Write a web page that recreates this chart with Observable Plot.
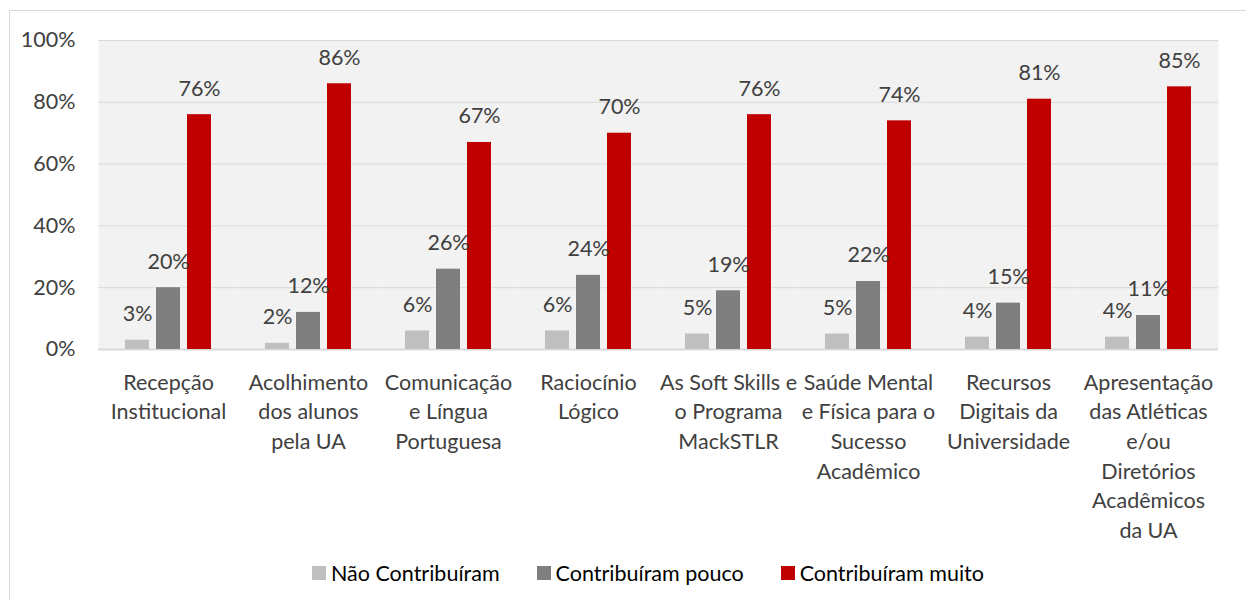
<!DOCTYPE html>
<html>
<head>
<meta charset="utf-8">
<script src="https://cdn.jsdelivr.net/npm/d3@7"></script>
<script src="https://cdn.jsdelivr.net/npm/@observablehq/plot@0.6"></script>
<style>
  html, body { margin: 0; padding: 0; background: #fff; width: 1246px; height: 600px; overflow: hidden; }
  #frame { position: absolute; left: 9px; top: 10px; width: 1250px; height: 600px; border-left: 1px solid #d9d9d9; border-top: 1px solid #d9d9d9; }
  #chart { position: absolute; left: 0; top: 0; }
  #legend { position: absolute; left: 312px; top: 560px; display: flex; align-items: center; font-family: Lato, sans-serif; font-size: 21.5px; color: #000; }
  .item { display: flex; align-items: center; margin-right: 37px; }
  .sw { width: 14px; height: 14px; margin-right: 5px; }
</style>
</head>
<body>
<div id="frame"></div>
<div id="chart"></div>
<div id="legend"></div>
<script>
const categories = ["Recepção Institucional", "Acolhimento dos alunos pela UA", "Comunicação e Língua Portuguesa", "Raciocínio Lógico", "As Soft Skills e o Programa MackSTLR", "Saúde Mental e Física para o Sucesso Acadêmico", "Recursos Digitais da Universidade", "Apresentação das Atléticas e/ou Diretórios Acadêmicos da UA"];
const tickLabels = ["Recepção\nInstitucional", "Acolhimento\ndos alunos\npela UA", "Comunicação\ne Língua\nPortuguesa", "Raciocínio\nLógico", "As Soft Skills e\no Programa\nMackSTLR", "Saúde Mental\ne Física para o\nSucesso\nAcadêmico", "Recursos\nDigitais da\nUniversidade", "Apresentação\ndas Atléticas\ne/ou\nDiretórios\nAcadêmicos\nda UA"];
const series = ["Não Contribuíram", "Contribuíram pouco", "Contribuíram muito"];
const colors = ["#bfbfbf", "#7f7f7f", "#c00000"];
const naoContribuiram = [3, 2, 6, 6, 5, 5, 4, 4];
const contribuiramPouco = [20, 12, 26, 24, 19, 22, 15, 11];
const contribuiramMuito = [76, 86, 67, 70, 76, 74, 81, 85];
const yTicks = [0, 20, 40, 60, 80, 100];

const seriesValues = [naoContribuiram, contribuiramPouco, contribuiramMuito];
const data = [];
categories.forEach((c, i) => {
  series.forEach((s, j) => data.push({cat: c, series: s, value: seriesValues[j][i]}));
});

const chart = Plot.plot({
  width: 1246,
  height: 550,
  marginLeft: 98,
  marginRight: 28,
  marginTop: 40,
  marginBottom: 201,
  style: {fontFamily: "Lato, sans-serif", fontSize: "21.5px", color: "#404040", background: "transparent"},
  fx: {domain: categories, padding: 0, label: null},
  x: {domain: series, paddingInner: 0.226, paddingOuter: 0.871, axis: null},
  y: {domain: [0, 100], label: null},
  color: {domain: series, range: colors},
  marks: [
    Plot.frame({fill: "#f2f2f2", stroke: null}),
    Plot.ruleY(yTicks.slice(1), {stroke: "#d9d9d9", strokeWidth: 1}),
    Plot.ruleY([0], {stroke: "#d9d9d9", strokeWidth: 2}),
    Plot.barY(data, {fx: "cat", x: "series", y: "value", fill: "series"}),
    Plot.text(data, {fx: "cat", x: "series", y: "value", text: d => d.value + "%", dy: -26, fill: "#404040", fontSize: 21.5}),
    Plot.axisY({ticks: yTicks, tickFormat: d => d + "%", tickSize: 0, tickPadding: 23, fontSize: 21.5, label: null}),
    Plot.axisFx({anchor: "bottom", tickSize: 0, tickPadding: 19, lineHeight: 1.38, lineAnchor: "top", fontSize: 21.5, label: null, tickFormat: d => tickLabels[categories.indexOf(d)]})
  ]
});
document.getElementById("chart").appendChild(chart);

const legend = document.getElementById("legend");
series.forEach((s, i) => {
  const item = document.createElement("div");
  item.className = "item";
  const sw = document.createElement("div");
  sw.className = "sw";
  sw.style.background = colors[i];
  const t = document.createElement("span");
  t.textContent = s;
  item.appendChild(sw);
  item.appendChild(t);
  legend.appendChild(item);
});
</script>
</body>
</html>
